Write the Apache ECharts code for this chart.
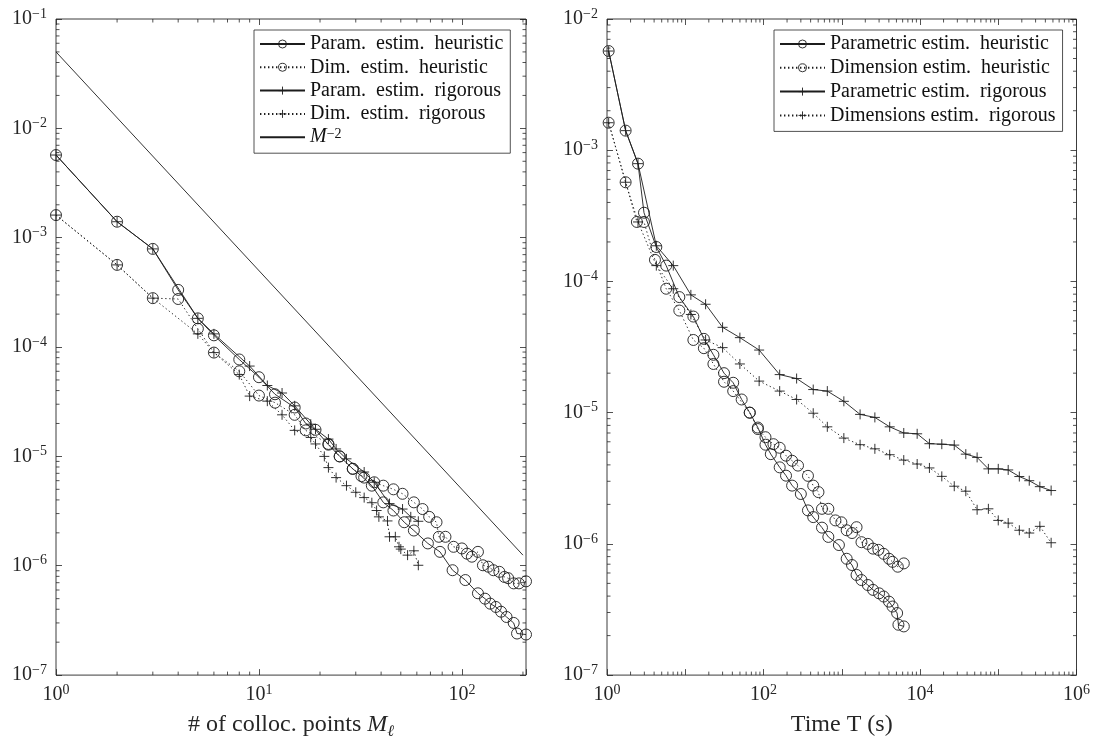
<!DOCTYPE html>
<html><head><meta charset="utf-8">
<script src="https://cdn.jsdelivr.net/npm/echarts@6/dist/echarts.min.js"></script>
<style>html,body{margin:0;padding:0;background:#fff}#c{width:1093px;height:745px}</style>
</head><body><div id="c"></div>
<script>
// ---------------- data: left panel (x = # of collocation points M) ----------------
const M_paramHeur = [1,2,3,4,5,6,8,10,12,15,17,19,22,25,29,32,36,41,46,52,58,68,78,90,104,120,130,138,147,156,166,180,187,207];
const E_paramHeur_L = [5.7e-3,1.40e-3,7.9e-4,3.33e-4,1.83e-4,1.28e-4,7.7e-5,5.3e-5,3.7e-5,2.8e-5,2.0e-5,1.75e-5,1.28e-5,1.0e-5,7.7e-6,6.6e-6,5.4e-6,3.8e-6,3.2e-6,2.5e-6,2.1e-6,1.6e-6,1.34e-6,9.1e-7,7.4e-7,5.6e-7,5.0e-7,4.5e-7,4.2e-7,3.8e-7,3.4e-7,3.0e-7,2.4e-7,2.35e-7];
const M_dimHeur = [1,2,3,4,5,6,8,10,12,15,17,22,25,29,33,37,41,46,51,58,64,69,75,77,83,91,100,106,112,120,127,135,143,153,162,169,180,191,207];
const E_dimHeur_L = [1.61e-3,5.64e-4,2.8e-4,2.75e-4,1.47e-4,8.9e-5,6.0e-5,3.6e-5,3.1e-5,2.4e-5,1.73e-5,1.3e-5,1.0e-5,7.7e-6,6.4e-6,5.8e-6,5.4e-6,5.0e-6,4.55e-6,3.8e-6,3.3e-6,2.8e-6,2.5e-6,1.84e-6,1.84e-6,1.49e-6,1.44e-6,1.29e-6,1.21e-6,1.34e-6,1.01e-6,9.8e-7,9.1e-7,8.8e-7,7.9e-7,7.7e-7,6.9e-7,6.9e-7,7.2e-7];
const M_paramRig = [1,2,3,5,6,9,11,13,15,18,19,22,24,27,33,37,44,51,56,61];
const E_paramRig_L = [5.7e-3,1.40e-3,7.9e-4,1.83e-4,1.32e-4,6.7e-5,4.45e-5,3.8e-5,2.9e-5,1.97e-5,1.77e-5,1.44e-5,1.17e-5,9.5e-6,7.2e-6,5.8e-6,3.7e-6,3.3e-6,2.8e-6,2.55e-6];
const M_dimRig = [1,2,3,5,6,8,9,11,13,15,18,19,21,22,24,27,30,33,36,38,39,43,44,47,49,50,54,58,61];
const E_dimRig_L = [1.61e-3,5.64e-4,2.8e-4,1.32e-4,8.9e-5,5.6e-5,3.56e-5,3.2e-5,2.4e-5,1.73e-5,1.49e-5,1.3e-5,1.0e-5,7.9e-6,6.4e-6,5.4e-6,4.7e-6,4.2e-6,3.77e-6,3.2e-6,2.8e-6,2.57e-6,1.84e-6,1.84e-6,1.49e-6,1.42e-6,1.25e-6,1.37e-6,1.01e-6];
const M_ref = [1, 200];
const E_ref = [5.0e-2, 1.25e-6];

// ---------------- data: right panel (x = time T in seconds) ----------------
const T_paramHeur = [1.05,1.73,2.49,2.97,4.27,5.71,8.4,12.7,17.3,22.9,31.3,41,52.6,66.7,84.7,106,124,161,194,232,300,370,432,559,674,920,1156,1352,1546,1787,2154,2512,3000,3433,4015,4453,5100,5300,6210];
const E_paramHeur_R = [5.7e-3,1.41e-3,7.9e-4,3.34e-4,1.83e-4,1.32e-4,7.6e-5,5.4e-5,3.65e-5,2.76e-5,2.0e-5,1.69e-5,1.26e-5,1.0e-5,7.7e-6,5.7e-6,4.83e-6,3.83e-6,3.31e-6,2.78e-6,2.4e-6,1.8e-6,1.6e-6,1.33e-6,1.13e-6,9.8e-7,7.7e-7,6.9e-7,5.8e-7,5.3e-7,4.86e-7,4.46e-7,4.2e-7,3.97e-7,3.63e-7,3.33e-7,2.97e-7,2.42e-7,2.35e-7];
const T_dimHeur = [1.05,1.73,2.41,2.97,4.1,5.71,8.4,12.7,17.3,22.9,31.3,41,66.7,84.7,106,134,161,194,232,276,370,432,504,559,674,830,989,1156,1352,1546,1787,2154,2512,2940,3433,4015,4453,5200,6210];
const E_dimHeur_R = [1.62e-3,5.7e-4,2.84e-4,2.84e-4,1.46e-4,8.8e-5,6.0e-5,3.58e-5,3.1e-5,2.35e-5,1.72e-5,1.46e-5,1.0e-5,7.5e-6,6.5e-6,5.75e-6,5.4e-6,4.7e-6,4.3e-6,3.95e-6,3.3e-6,2.78e-6,2.48e-6,1.85e-6,1.85e-6,1.51e-6,1.46e-6,1.27e-6,1.21e-6,1.34e-6,1.03e-6,1.0e-6,9.2e-7,9.0e-7,8.4e-7,7.7e-7,7.3e-7,6.7e-7,7.1e-7];
const T_rig = [1.05,1.73,2.49,4.27,7.03,11.8,18.2,30,49.9,88,161,265,432,654,1064,1715,2650,4100,6200,9200,13200,19000,27400,38500,53700,74800,100000,134000,186000,249000,340000,474000];
const E_paramRig_R = [5.7e-3,1.41e-3,7.9e-4,1.87e-4,1.32e-4,7.9e-5,6.7e-5,4.47e-5,3.73e-5,3.0e-5,1.95e-5,1.82e-5,1.5e-5,1.46e-5,1.22e-5,9.7e-6,9.2e-6,7.8e-6,7.0e-6,6.9e-6,5.8e-6,5.75e-6,5.66e-6,4.83e-6,4.56e-6,3.73e-6,3.73e-6,3.66e-6,3.26e-6,3.03e-6,2.73e-6,2.55e-6];
const E_dimRig_R = [1.62e-3,5.7e-4,2.84e-4,1.32e-4,8.8e-5,5.6e-5,3.58e-5,3.13e-5,2.35e-5,1.74e-5,1.46e-5,1.26e-5,9.9e-6,7.8e-6,6.4e-6,5.7e-6,5.3e-6,4.78e-6,4.35e-6,4.06e-6,3.79e-6,3.27e-6,2.75e-6,2.52e-6,1.82e-6,1.85e-6,1.51e-6,1.44e-6,1.27e-6,1.21e-6,1.36e-6,1.02e-6];

// ---------------- axis ranges ----------------
const XL = [1, 207], YL = [1e-7, 1e-1];
const XR = [1, 1e6], YR = [1e-7, 1e-2];

// legend names
const NAMES_L = ['Param. estim. heuristic','Dim. estim. heuristic','Param. estim. rigorous','Dim. estim. rigorous','M^-2'];
const NAMES_R = ['Parametric estim. heuristic','Dimension estim. heuristic','Parametric estim. rigorous','Dimensions estim. rigorous'];

// ---------------- styling ----------------
const FONT = "'Liberation Serif','Times New Roman',serif";
const INK = '#262626';
const LINE = '#1c1c1c';
const PLUS = 'path://M5,0L5,10M0,5L10,5';
const DOT = [1.4, 2.6];

const zip = (a, b) => a.map((v, i) => [v, b[i]]);

function minors(lo, hi, maxV) {
  const out = [];
  for (let e = lo; e < hi; e++) for (let k = 2; k <= 9; k++) {
    const v = k * Math.pow(10, e);
    if (v < maxV) out.push(v);
  }
  return out;
}

const labelRich = {
  b: {fontFamily: FONT, fontSize: 20, lineHeight: 24, color: INK},
  s: {fontFamily: FONT, fontSize: 14, lineHeight: 14, verticalAlign: 'top', color: INK}
};
function supLabel(v, skipOdd) {
  const lg = Math.log10(v);
  const e = Math.round(lg);
  if (Math.abs(lg - e) > 1e-6) return '';
  if (skipOdd && Math.abs(e) % 2 === 1) return '';
  return '{b|10}{s|' + String(e).replace('-', '\u2212') + '}';
}

const tickMajor = {show: true, inside: true, length: 6, lineStyle: {color: INK, width: 0.8}};

function xAxisDef(grid, range, pos, labels, skipOdd, name) {
  return {
    type: 'log', logBase: 10, gridIndex: grid, min: range[0], max: range[1], position: pos,
    axisLine: {show: false}, axisTick: tickMajor, splitLine: {show: false}, minorTick: {show: false},
    axisLabel: labels ? {show: true, margin: 8, formatter: v => supLabel(v, skipOdd), rich: labelRich} : {show: false},
    name: name || '', nameLocation: 'middle', nameGap: 29,
    nameTextStyle: {fontFamily: FONT, fontSize: 24, lineHeight: 30, color: INK,
      rich: {
        it: {fontFamily: FONT, fontSize: 24, lineHeight: 30, fontStyle: 'italic', color: INK},
        sub: {fontFamily: FONT, fontSize: 16, lineHeight: 16, fontStyle: 'italic', verticalAlign: 'bottom', color: INK}
      }},
    silent: true
  };
}
function yAxisDef(grid, range, pos, labels) {
  return {
    type: 'log', logBase: 10, gridIndex: grid, min: range[0], max: range[1], position: pos,
    axisLine: {show: false}, axisTick: tickMajor, splitLine: {show: false},
    axisLabel: labels ? {show: true, margin: 9, formatter: v => supLabel(v, false), rich: labelRich} : {show: false},
    silent: true
  };
}

function lineSeries(name, data, axisIdx, dotted, sym) {
  return {
    name, type: 'line', data, xAxisIndex: axisIdx, yAxisIndex: axisIdx,
    symbol: sym === '+' ? PLUS : 'circle',
    symbolSize: sym === 'o' ? 11 : 10,
    showSymbol: sym !== 'none',
    lineStyle: {color: LINE, width: 0.9, type: dotted ? DOT : 'solid'},
    itemStyle: sym === 'none'
      ? {color: 'rgba(0,0,0,0)', borderColor: 'rgba(0,0,0,0)', borderWidth: 0}
      : {color: 'rgba(0,0,0,0)', borderColor: LINE, borderWidth: 0.9},
    emphasis: {disabled: true}, silent: true, animation: false, z: 3, clip: false
  };
}

function minorSeries(axisIdx, vals, isX, xr, yr) {
  const data = vals.map(v => isX ? [v, yr[0]] : [xr[0], v]);
  return {
    type: 'custom', xAxisIndex: axisIdx, yAxisIndex: axisIdx, silent: true, animation: false, z: 1, clip: false,
    data,
    renderItem: (params, api) => {
      const L = 3.5;
      const st = {stroke: INK, lineWidth: 0.8};
      if (isX) {
        const v = api.value(0);
        const a = api.coord([v, yr[0]]), b = api.coord([v, yr[1]]);
        return {type: 'group', children: [
          {type: 'line', shape: {x1: a[0], y1: a[1], x2: a[0], y2: a[1] - L}, style: st},
          {type: 'line', shape: {x1: b[0], y1: b[1], x2: b[0], y2: b[1] + L}, style: st}
        ]};
      } else {
        const v = api.value(1);
        const a = api.coord([xr[0], v]), b = api.coord([xr[1], v]);
        return {type: 'group', children: [
          {type: 'line', shape: {x1: a[0], y1: a[1], x2: a[0] + L, y2: a[1]}, style: st},
          {type: 'line', shape: {x1: b[0], y1: b[1], x2: b[0] - L, y2: b[1]}, style: st}
        ]};
      }
    }
  };
}

function legendData(names) {
  return names.map(n => ({
    name: n,
    itemStyle: n === 'M^-2'
      ? {color: 'rgba(0,0,0,0)', borderColor: 'rgba(0,0,0,0)', borderWidth: 0}
      : {color: 'rgba(0,0,0,0)', borderColor: LINE, borderWidth: 0.9}
  }));
}
function legendDef(names, left, top, gap) {
  return {
    data: legendData(names), orient: 'vertical', left, top,
    itemWidth: 45, itemHeight: 10, itemGap: gap, padding: [4, 7, 6, 5],
    backgroundColor: '#fff', borderColor: INK, borderWidth: 0.8, borderRadius: 0,
    selectedMode: false, z: 10,
    textStyle: {fontFamily: FONT, fontSize: 20, lineHeight: 20, color: '#111',
      rich: {
        it: {fontFamily: FONT, fontSize: 20, lineHeight: 20, fontStyle: 'italic', color: '#111'},
        sup: {fontFamily: FONT, fontSize: 14, lineHeight: 12, verticalAlign: 'top', color: '#111'}
      }},
    formatter: n => n === 'M^-2' ? '{it|M}{sup|\u22122}' : n.replace(/\. /g, '.  ')
  };
}

const option = {
  backgroundColor: '#fff',
  animation: false,
  textStyle: {fontFamily: FONT},
  grid: [
    {left: 56, top: 19, width: 470, height: 660, show: true, borderColor: INK, borderWidth: 0.9, backgroundColor: 'transparent'},
    {left: 607, top: 19, width: 470, height: 660, show: true, borderColor: INK, borderWidth: 0.9, backgroundColor: 'transparent'}
  ],
  xAxis: [
    xAxisDef(0, XL, 'bottom', true, false, '# of colloc. points {it|M}{sub|\u2113}'),
    xAxisDef(0, XL, 'top', false),
    xAxisDef(1, XR, 'bottom', true, true, 'Time T (s)'),
    xAxisDef(1, XR, 'top', false)
  ],
  yAxis: [
    yAxisDef(0, YL, 'left', true),
    yAxisDef(0, YL, 'right', false),
    yAxisDef(1, YR, 'left', true),
    yAxisDef(1, YR, 'right', false)
  ],
  legend: [legendDef(NAMES_L, 254, 30, 3.3), legendDef(NAMES_R, 774, 30, 3.8)],
  series: [
    lineSeries(NAMES_L[0], zip(M_paramHeur, E_paramHeur_L), 0, false, 'o'),
    lineSeries(NAMES_L[1], zip(M_dimHeur, E_dimHeur_L), 0, true, 'o'),
    lineSeries(NAMES_L[2], zip(M_paramRig, E_paramRig_L), 0, false, '+'),
    lineSeries(NAMES_L[3], zip(M_dimRig, E_dimRig_L), 0, true, '+'),
    lineSeries(NAMES_L[4], zip(M_ref, E_ref), 0, false, 'none'),
    lineSeries(NAMES_R[0], zip(T_paramHeur, E_paramHeur_R), 2, false, 'o'),
    lineSeries(NAMES_R[1], zip(T_dimHeur, E_dimHeur_R), 2, true, 'o'),
    lineSeries(NAMES_R[2], zip(T_rig, E_paramRig_R), 2, false, '+'),
    lineSeries(NAMES_R[3], zip(T_rig, E_dimRig_R), 2, true, '+'),
    minorSeries(0, minors(0, 3, XL[1]), true, XL, YL),
    minorSeries(0, minors(-7, -1, 1), false, XL, YL),
    minorSeries(2, minors(0, 6, 1e7), true, XR, YR),
    minorSeries(2, minors(-7, -2, 1), false, XR, YR)
  ]
};

const chart = echarts.init(document.getElementById('c'), null, {renderer: 'canvas'});
chart.setOption(option);
</script>
</body></html>
